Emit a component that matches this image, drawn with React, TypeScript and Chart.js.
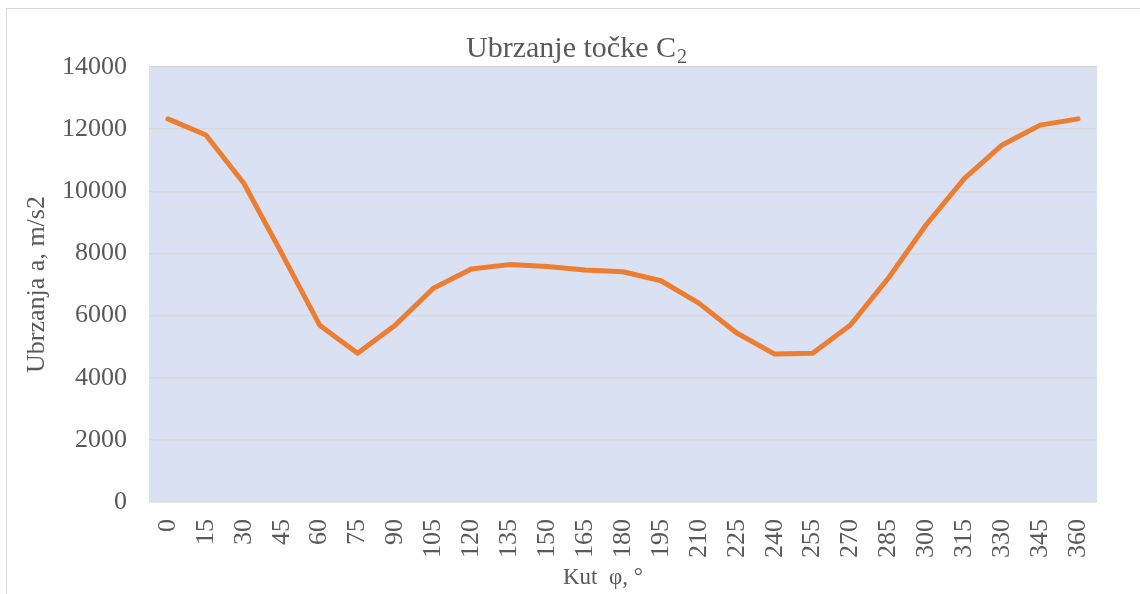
import React, { useEffect, useRef } from "react";
import { Chart, registerables } from "chart.js";

Chart.register(...registerables);

const angles = ["0","15","30","45","60","75","90","105","120","135","150","165","180","195","210","225","240","255","270","285","300","315","330","345","360"];
const acceleration = [12330, 11810, 10260, 8000, 5690, 4790, 5700, 6880, 7500, 7640, 7580, 7470, 7410, 7120, 6400, 5440, 4760, 4790, 5700, 7210, 8930, 10410, 11490, 12130, 12330];
const yTicks = [0, 2000, 4000, 6000, 8000, 10000, 12000, 14000];

const titleMain = "Ubrzanje točke C";
const titleSub = "2";
const xTitle = "Kut  φ, °";
const yTitle = "Ubrzanja a, m/s2";

const FONT = "'Liberation Serif', 'Times New Roman', serif";
const TEXT = "#595959";

const plotBg = {
  id: "plotBg",
  beforeDraw(chart: any) {
    const { ctx, chartArea } = chart;
    if (!chartArea) return;
    ctx.save();
    ctx.fillStyle = "#d9e1f2";
    ctx.fillRect(chartArea.left, chartArea.top, chartArea.right - chartArea.left, chartArea.bottom - chartArea.top);
    ctx.restore();
  },
};

const titlePlugin = {
  id: "subTitle",
  afterDraw(chart: any) {
    const { ctx, chartArea } = chart;
    ctx.save();
    ctx.fillStyle = TEXT;
    ctx.textBaseline = "alphabetic";
    ctx.textAlign = "left";
    const mainFont = `30px ${FONT}`;
    const subFont = `20px ${FONT}`;
    ctx.font = mainFont;
    const w1 = ctx.measureText(titleMain).width;
    ctx.font = subFont;
    const w2 = ctx.measureText(titleSub).width;
    const cx = (chartArea.left + chartArea.right) / 2 - 47;
    const x0 = cx - (w1 + w2) / 2;
    const baseline = chartArea.top - 10;
    ctx.font = mainFont;
    ctx.fillText(titleMain, x0, baseline);
    ctx.font = subFont;
    ctx.fillText(titleSub, x0 + w1 + 1, baseline + 6);
    ctx.restore();
  },
};

export default function App() {
  const ref = useRef<HTMLCanvasElement | null>(null);
  useEffect(() => {
    if (!ref.current) return;
    const chart = new Chart(ref.current, {
      type: "line",
      data: {
        labels: angles,
        datasets: [
          {
            data: acceleration,
            borderColor: "#ed7d31",
            backgroundColor: "#ed7d31",
            borderWidth: 5,
            pointRadius: 0,
            tension: 0,
            borderCapStyle: "round",
            borderJoinStyle: "round",
          },
        ],
      },
      options: {
        animation: false,
        responsive: false,
        layout: { padding: { left: 0, right: 43, top: 67, bottom: 0 } },
        plugins: {
          legend: { display: false },
          tooltip: { enabled: false },
          title: { display: false },
        },
        scales: {
          x: {
            type: "category",
            offset: true,
            grid: { display: false, drawTicks: false },
            border: { display: false },
            ticks: {
              color: TEXT,
              font: { family: FONT, size: 26 },
              minRotation: 90,
              maxRotation: 90,
              autoSkip: false,
              padding: 17,
            },
            title: {
              display: true,
              text: xTitle + "       ",
              color: TEXT,
              font: { family: FONT, size: 23 },
              padding: { top: 0, bottom: 2 },
            },
            afterFit(scale: any) {
              scale.height = 92;
            },
          },
          y: {
            min: 0,
            max: 14000,
            afterBuildTicks(scale: any) {
              scale.ticks = yTicks.map((v) => ({ value: v }));
            },
            grid: { color: "#d9d9d9", lineWidth: 1.5, drawTicks: false },
            border: { display: false },
            ticks: {
              color: TEXT,
              font: { family: FONT, size: 26 },
              padding: 22,
              callback: (v: any) => String(v),
            },
            title: {
              display: true,
              text: yTitle,
              color: TEXT,
              font: { family: FONT, size: 26 },
              padding: { top: 22, bottom: 0 },
            },
            afterFit(scale: any) {
              scale.width = 149;
            },
          },
        },
      },
      plugins: [plotBg, titlePlugin],
    });
    return () => chart.destroy();
  }, []);

  return (
    <div style={{ position: "fixed", left: 0, top: 0, width: 1140, height: 594, background: "#fff" }}>
      <div style={{ position: "absolute", left: 6, top: 8, width: 1140, height: 600, border: "1px solid #d9d9d9", boxSizing: "border-box" }} />
      <canvas ref={ref} width={1140} height={594} style={{ position: "absolute", left: 0, top: 0 }} />
    </div>
  );
}
